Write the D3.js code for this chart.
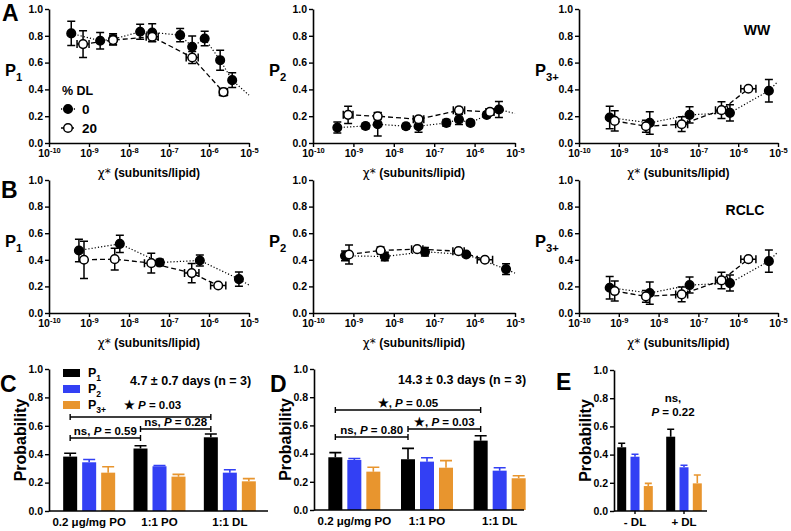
<!DOCTYPE html>
<html>
<head>
<meta charset="utf-8">
<script src="https://cdn.jsdelivr.net/npm/d3@7"></script>
<style>
  body { margin: 0; background: #fff; }
  svg { display: block; font-family: 'Liberation Sans', Arial, sans-serif; font-weight: bold; }
</style>
</head>
<body>
<svg id="chart" width="791" height="531"></svg>
<script>

// Shared ticks.
var chiTicks = [1e-10, 1e-9, 1e-8, 1e-7, 1e-6, 1e-5];
var chiTickExp = ['-10', '-9', '-8', '-7', '-6', '-5'];
var probTicks = [0, 0.2, 0.4, 0.6, 0.8, 1];

// WW, P1 (0 % DL filled, 20 % DL open).
var wwP1X0 = [3.6e-10, 1.9e-9, 4.0e-9, 1.9e-8, 3.8e-8, 1.9e-7, 3.8e-7, 7.8e-7, 1.9e-6, 3.8e-6];
var wwP1Y0 = [0.818, 0.763, 0.775, 0.83, 0.825, 0.805, 0.718, 0.78, 0.618, 0.469];
var wwP1E0 = [0.091, 0.062, 0.04, 0.056, 0.065, 0.05, 0.081, 0.054, 0.075, 0.055];
var wwP1X20 = [7.1e-10, 4.0e-9, 3.8e-8, 3.8e-7, 2.3e-6];
var wwP1Y20 = [0.738, 0.768, 0.793, 0.638, 0.38];
var wwP1E20 = [0.10, 0.037, 0.037, 0.044, 0.027];
var wwP1XE20 = [0.15, 0, 0.15, 0.15, 0.1];
var wwP1Tail = 0.357;

// WW, P2.
var wwP2X0 = [4.0e-10, 2.0e-9, 4.0e-9, 2.0e-8, 4.1e-8, 2.0e-7, 4.1e-7, 7.9e-7, 2.0e-6, 4.0e-6];
var wwP2Y0 = [0.115, 0.127, 0.14, 0.125, 0.125, 0.15, 0.175, 0.15, 0.21, 0.25];
var wwP2E0 = [0.041, 0.02, 0.087, 0.02, 0.044, 0.025, 0.037, 0.02, 0.02, 0.059];
var wwP2X20 = [7.4e-10, 4.0e-9, 4.1e-8, 4.1e-7, 2.4e-6];
var wwP2Y20 = [0.21, 0.20, 0.177, 0.244, 0.232];
var wwP2E20 = [0.065, 0.025, 0.02, 0.02, 0.02];
var wwP2XE20 = [0.12, 0, 0.13, 0.14, 0.1];
var wwP2Tail = 0.22;

// P3+ (same for WW and RCLC).
var p3X0 = [5.9e-10, 6.0e-9, 6.0e-8, 6.2e-7, 5.9e-6];
var p3Y0 = [0.19, 0.15, 0.21, 0.225, 0.39];
var p3E0 = [0.084, 0.084, 0.06, 0.06, 0.084];
var p3X20 = [7.9e-10, 4.8e-9, 3.8e-8, 3.8e-7, 1.8e-6];
var p3Y20 = [0.165, 0.125, 0.14, 0.245, 0.405];
var p3E20 = [0.075, 0.044, 0.055, 0.062, 0.01];
var p3XE20 = [0, 0, 0.15, 0.15, 0.19];
var p3Tail = 0.46;

// RCLC, P1.
var rcP1X0 = [5.6e-10, 5.9e-9, 5.9e-8, 5.9e-7, 5.6e-6];
var rcP1Y0 = [0.47, 0.52, 0.38, 0.395, 0.255];
var rcP1E0 = [0.084, 0.065, 0.025, 0.041, 0.054];
var rcP1X20 = [7.5e-10, 4.4e-9, 3.6e-8, 3.7e-7, 1.7e-6];
var rcP1Y20 = [0.40, 0.405, 0.375, 0.30, 0.207];
var rcP1E20 = [0.14, 0.081, 0.075, 0.072, 0.01];
var rcP1XE20 = [0, 0, 0.17, 0.18, 0.19];
var rcP1Tail = 0.21;

// RCLC, P2.
var rcP2X0 = [6.2e-10, 6.0e-9, 5.9e-8, 6.2e-7, 6.0e-6];
var rcP2Y0 = [0.43, 0.425, 0.46, 0.44, 0.33];
var rcP2E0 = [0.037, 0.032, 0.032, 0.015, 0.041];
var rcP2X20 = [7.8e-10, 4.7e-9, 3.8e-8, 4.0e-7, 1.8e-6];
var rcP2Y20 = [0.44, 0.47, 0.48, 0.465, 0.40];
var rcP2E20 = [0.072, 0.027, 0.01, 0.01, 0.01];
var rcP2XE20 = [0, 0, 0.14, 0.14, 0.19];
var rcP2Tail = 0.30;

// Bar charts.
var seriesNames = ['1', '2', '3+'];
var seriesColors = ['#000000', '#3340f4', '#e8952e'];

var cGroups = ['0.2 μg/mg PO', '1:1 PO', '1:1 DL'];
var cP1 = [0.383, 0.44, 0.519], cP1Err = [0.024, 0.02, 0.023];
var cP2 = [0.343, 0.315, 0.27], cP2Err = [0.02, 0.005, 0.02];
var cP3 = [0.27, 0.242, 0.209], cP3Err = [0.042, 0.016, 0.019];

var dGroups = ['0.2 μg/mg PO', '1:1 PO', '1:1 DL'];
var dP1 = [0.374, 0.36, 0.492], dP1Err = [0.033, 0.077, 0.035];
var dP2 = [0.355, 0.343, 0.279], dP2Err = [0.01, 0.028, 0.021];
var dP3 = [0.272, 0.30, 0.225], dP3Err = [0.031, 0.05, 0.018];

var eGroups = ['- DL', '+ DL'];
var eP1 = [0.452, 0.527], eP1Err = [0.028, 0.053];
var eP2 = [0.385, 0.31], eP2Err = [0.017, 0.014];
var eP3 = [0.177, 0.196], eP3Err = [0.019, 0.059];

// Significance brackets: group indices, level, star, P.
var cSigs = [[0, 2, 0.662, '★ ', '0.03'], [1, 2, 0.577, 'ns, ', '0.28'], [0, 1, 0.514, 'ns, ', '0.59']];
var dSigs = [[0, 2, 0.709, '★, ', '0.05'], [1, 2, 0.574, '★, ', '0.03'], [0, 1, 0.518, 'ns, ', '0.80']];


var svg = d3.select('#chart');


/**
 * Zip parallel arrays into point objects.
 */
function points(xs, ys, es, xes) {
  return xs.map(function(x, i) {
    return { x: x, y: ys[i], e: es[i], xe: xes ? xes[i] : 0 };
  });
}


/**
 * Thicken the axis lines and set the tick font.
 */
function styleAxis(sel) {
  sel.select('.domain').attr('stroke-width', 1.6);
  sel.selectAll('.tick line').attr('stroke-width', 1.4);
  sel.selectAll('.tick text')
    .attr('font-size', 10.5).attr('font-weight', 'bold')
    .attr('font-family', "'Liberation Sans', Arial, sans-serif");
}


/**
 * Draw "P" with a subscript.
 */
function pLabel(g, x, y, sub, size) {
  var t = g.append('text').attr('x', x).attr('y', y).attr('font-size', size);
  t.append('tspan').text('P');
  t.append('tspan').attr('dy', size * 0.3).attr('font-size', size * 0.68).text(sub);
  return t;
}


/**
 * Render one log-x scatter panel.
 */
function scatterPanel(p) {

  var g = svg.append('g');
  var x = d3.scaleLog().domain([1e-10, 1e-5]).range([p.left, p.right]);
  var y = d3.scaleLinear().domain([0, 1]).range([p.bottom, p.top]);

  // Axes.
  g.append('g').attr('transform', 'translate(' + p.left + ',0)')
    .call(d3.axisLeft(y).tickValues(probTicks).tickFormat(d3.format('.1f'))
      .tickSize(4).tickSizeOuter(0).tickPadding(2))
    .call(styleAxis);

  var xa = g.append('g').attr('transform', 'translate(0,' + p.bottom + ')')
    .call(d3.axisBottom(x).tickValues(chiTicks).tickFormat('')
      .tickSize(4).tickSizeOuter(0))
    .call(styleAxis);

  xa.selectAll('.tick').append('text')
    .attr('y', 14).attr('fill', '#000').attr('text-anchor', 'middle')
    .attr('font-size', 10.5)
    .each(function(d, i) {
      var t = d3.select(this);
      t.append('tspan').text('10');
      t.append('tspan').attr('dy', -4.5).attr('font-size', 7.5).text(chiTickExp[i]);
    });

  g.append('text')
    .attr('x', (p.left + p.right) / 2).attr('y', p.bottom + 34)
    .attr('text-anchor', 'middle').attr('font-size', 12)
    .call(function(t) {
      t.append('tspan').attr('font-family', 'DejaVu Sans').attr('font-weight', 'normal').text('χ*');
      t.append('tspan').text(' (subunits/lipid)');
    });

  pLabel(g, p.left - 44, p.top + 67, p.sub, 16.5);

  var line = d3.line().x(function(d) { return x(d.x); }).y(function(d) { return y(d.y); });

  // Dotted trend through the 0 % points, dashed through the 20 % points.
  g.append('path')
    .datum(p.filled.concat([{ x: 1e-5, y: p.tail }]))
    .attr('d', line).attr('fill', 'none').attr('stroke', '#000')
    .attr('stroke-width', 1.2).attr('stroke-dasharray', '1.2,2');

  g.append('path')
    .datum(p.open)
    .attr('d', line).attr('fill', 'none').attr('stroke', '#000')
    .attr('stroke-width', 1.3).attr('stroke-dasharray', '5,3');

  [p.filled, p.open].forEach(function(data, k) {

    var s = g.append('g');

    // Error bars.
    data.forEach(function(d) {
      var cx = x(d.x), y0 = y(d.y - d.e), y1 = y(d.y + d.e);
      s.append('path')
        .attr('d', 'M' + cx + ',' + y0 + 'V' + y1 +
          'M' + (cx - 4) + ',' + y0 + 'H' + (cx + 4) +
          'M' + (cx - 4) + ',' + y1 + 'H' + (cx + 4))
        .attr('stroke', '#000').attr('stroke-width', 1.5);
      if (d.xe > 0) {
        var x0 = x(d.x / Math.pow(10, d.xe)), x1 = x(d.x * Math.pow(10, d.xe)), cy = y(d.y);
        s.append('path')
          .attr('d', 'M' + x0 + ',' + cy + 'H' + x1 +
            'M' + x0 + ',' + (cy - 4) + 'V' + (cy + 4) +
            'M' + x1 + ',' + (cy - 4) + 'V' + (cy + 4))
          .attr('stroke', '#000').attr('stroke-width', 1.5);
      }
    });

    // Markers.
    s.selectAll('circle').data(data).enter().append('circle')
      .attr('cx', function(d) { return x(d.x); })
      .attr('cy', function(d) { return y(d.y); })
      .attr('r', 4.3)
      .attr('fill', k === 0 ? '#000' : '#fff')
      .attr('stroke', '#000').attr('stroke-width', 1.5);

  });

  return g;
}


/**
 * Render one grouped bar panel.
 */
function barPanel(p) {

  var g = svg.append('g');
  var x = d3.scaleBand().domain(p.groups).range(p.band);
  var y = d3.scaleLinear().domain([0, 1]).range([p.bottom, p.top]);

  var series = [[p.p1, p.e1], [p.p2, p.e2], [p.p3, p.e3]];

  series.forEach(function(s, k) {
    p.groups.forEach(function(name, i) {
      var cx = x(name) + x.bandwidth() / 2 + (k - 1) * p.offset;
      var top = y(s[0][i]), errTop = y(s[0][i] + s[1][i]);
      var hw = p.barWidth / 2 - 1;
      g.append('path')
        .attr('d', 'M' + cx + ',' + top + 'V' + errTop +
          'M' + (cx - hw) + ',' + errTop + 'H' + (cx + hw))
        .attr('stroke', seriesColors[k]).attr('stroke-width', 1.6);
      g.append('rect')
        .attr('x', cx - p.barWidth / 2).attr('y', top)
        .attr('width', p.barWidth).attr('height', y(0) - top)
        .attr('fill', seriesColors[k]);
    });
  });

  // Axes.
  g.append('g').attr('transform', 'translate(' + p.left + ',0)')
    .call(d3.axisLeft(y).tickValues(probTicks).tickFormat(d3.format('.1f'))
      .tickSize(4).tickSizeOuter(0).tickPadding(2))
    .call(styleAxis);

  g.append('line')
    .attr('x1', p.left).attr('x2', p.right)
    .attr('y1', p.bottom).attr('y2', p.bottom)
    .attr('stroke', '#000').attr('stroke-width', 1.6);

  var xa = g.append('g').attr('transform', 'translate(0,' + p.bottom + ')')
    .call(d3.axisBottom(x).tickSize(p.xTicks ? 3 : 0).tickPadding(p.xTicks ? 4 : 7))
    .call(styleAxis);
  xa.select('.domain').remove();
  xa.selectAll('.tick text').attr('font-size', 11.5);

  g.append('text')
    .attr('transform', 'translate(' + (p.left - 23) + ',' + ((p.top + p.bottom) / 2) + ') rotate(-90)')
    .attr('text-anchor', 'middle').attr('font-size', 16)
    .text('Probability');

  // Significance brackets.
  (p.sigs || []).forEach(function(s) {
    var x0 = x(p.groups[s[0]]) + x.bandwidth() / 2 - p.offset;
    var x1 = x(p.groups[s[1]]) + x.bandwidth() / 2 - p.offset;
    var ly = y(s[2]);
    g.append('path')
      .attr('d', 'M' + x0 + ',' + ly + 'H' + x1 +
        'M' + x0 + ',' + (ly - 3) + 'V' + (ly + 3) +
        'M' + x1 + ',' + (ly - 3) + 'V' + (ly + 3))
      .attr('stroke', '#000').attr('stroke-width', 1.4);
    var t = g.append('text')
      .attr('x', (x0 + x1) / 2 + (s[5] || 0)).attr('y', ly - (s[6] || 3))
      .attr('text-anchor', 'middle').attr('font-size', 11.5);
    t.append('tspan').text(s[3]);
    t.append('tspan').attr('font-style', 'italic').text('P');
    t.append('tspan').text(' = ' + s[4]);
  });

  return g;
}


// Row A (WW) and row B (RCLC).
var colLeft = [49, 313, 579], colRight = [249, 515, 778];

scatterPanel({ left: colLeft[0], right: colRight[0], top: 9, bottom: 143, sub: '1',
  filled: points(wwP1X0, wwP1Y0, wwP1E0), open: points(wwP1X20, wwP1Y20, wwP1E20, wwP1XE20), tail: wwP1Tail });
scatterPanel({ left: colLeft[1], right: colRight[1], top: 9, bottom: 143, sub: '2',
  filled: points(wwP2X0, wwP2Y0, wwP2E0), open: points(wwP2X20, wwP2Y20, wwP2E20, wwP2XE20), tail: wwP2Tail });
scatterPanel({ left: colLeft[2], right: colRight[2], top: 9, bottom: 143, sub: '3+',
  filled: points(p3X0, p3Y0, p3E0), open: points(p3X20, p3Y20, p3E20, p3XE20), tail: p3Tail });

scatterPanel({ left: colLeft[0], right: colRight[0], top: 180, bottom: 313, sub: '1',
  filled: points(rcP1X0, rcP1Y0, rcP1E0), open: points(rcP1X20, rcP1Y20, rcP1E20, rcP1XE20), tail: rcP1Tail });
scatterPanel({ left: colLeft[1], right: colRight[1], top: 180, bottom: 313, sub: '2',
  filled: points(rcP2X0, rcP2Y0, rcP2E0), open: points(rcP2X20, rcP2Y20, rcP2E20, rcP2XE20), tail: rcP2Tail });
scatterPanel({ left: colLeft[2], right: colRight[2], top: 180, bottom: 313, sub: '3+',
  filled: points(p3X0, p3Y0, p3E0), open: points(p3X20, p3Y20, p3E20, p3XE20), tail: p3Tail });

// Legend for the scatter rows.
var leg = svg.append('g');
leg.append('text').attr('x', 62).attr('y', 95).attr('font-size', 12.5).text('% DL');
[['0', '#000', '1.2,2', 109], ['20', '#fff', '3,2', 128]].forEach(function(r) {
  leg.append('line').attr('x1', 61).attr('x2', 76).attr('y1', r[3]).attr('y2', r[3])
    .attr('stroke', '#000').attr('stroke-width', 1.3).attr('stroke-dasharray', r[2]);
  leg.append('circle').attr('cx', 68).attr('cy', r[3]).attr('r', 4.3)
    .attr('fill', r[1]).attr('stroke', '#000').attr('stroke-width', 1.5);
  leg.append('text').attr('x', 82).attr('y', r[3] + 5).attr('font-size', 13.5).text(r[0]);
});

svg.append('text').attr('x', 757).attr('y', 35).attr('text-anchor', 'middle').attr('font-size', 14).text('WW');
svg.append('text').attr('x', 745).attr('y', 215).attr('text-anchor', 'middle').attr('font-size', 14).text('RCLC');

// Row of bar panels.
barPanel({ left: 49, right: 268, top: 369, bottom: 511, band: [54, 265], groups: cGroups,
  barWidth: 14, offset: 19, p1: cP1, e1: cP1Err, p2: cP2, e2: cP2Err, p3: cP3, e3: cP3Err,
  sigs: [cSigs[0].concat([12, 8]), cSigs[1], cSigs[2]] });
barPanel({ left: 314, right: 524, top: 369, bottom: 510, band: [318, 536], groups: dGroups,
  barWidth: 14, offset: 19, p1: dP1, e1: dP1Err, p2: dP2, e2: dP2Err, p3: dP3, e3: dP3Err,
  sigs: dSigs });
barPanel({ left: 614, right: 707, top: 370, bottom: 511, band: [610.5, 708.5], groups: eGroups,
  barWidth: 9, offset: 13.3, p1: eP1, e1: eP1Err, p2: eP2, e2: eP2Err, p3: eP3, e3: eP3Err,
  xTicks: true });

// Bar legend in panel C.
seriesNames.forEach(function(n, k) {
  var ry = 369 + k * 16;
  svg.append('rect').attr('x', 63).attr('y', ry).attr('width', 17).attr('height', 8)
    .attr('fill', seriesColors[k]);
  pLabel(svg, 88, ry + 8, n, 12.5);
});

svg.append('text').attr('x', 130).attr('y', 385).attr('font-size', 12.5).text('4.7 ± 0.7 days (n = 3)');
svg.append('text').attr('x', 398).attr('y', 384).attr('font-size', 12.5).text('14.3 ± 0.3 days (n = 3)');

var eNote = svg.append('g').attr('font-size', 11.5).attr('text-anchor', 'middle');
eNote.append('text').attr('x', 673).attr('y', 402).text('ns,');
eNote.append('text').attr('x', 673).attr('y', 416)
  .call(function(t) {
    t.append('tspan').attr('font-style', 'italic').text('P');
    t.append('tspan').text(' = 0.22');
  });

// Panel letters.
[['A', 2, 21], ['B', 1, 198], ['C', 0, 392], ['D', 270, 392], ['E', 556, 390]].forEach(function(l) {
  svg.append('text').attr('x', l[1]).attr('y', l[2]).attr('font-size', 23).text(l[0]);
});

</script>
</body>
</html>
